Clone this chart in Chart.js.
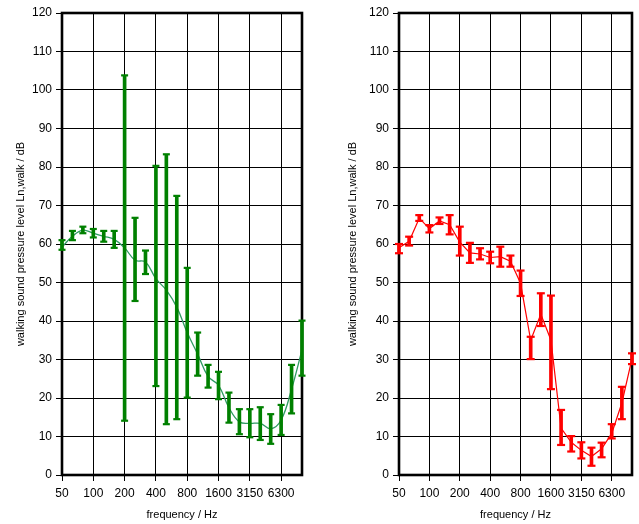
<!DOCTYPE html>
<html>
<head>
<meta charset="utf-8">
<script src="https://cdn.jsdelivr.net/npm/chart.js@4.4.1/dist/chart.umd.min.js"></script>
<style>
  html, body { margin: 0; padding: 0; background: #fff; }
  #wrap { position: relative; width: 639px; height: 524px; }
  canvas { position: absolute; top: 0; }
</style>
</head>
<body>
<div id="wrap">
  <canvas id="leftChart" width="320" height="524" style="left:0"></canvas>
  <canvas id="rightChart" width="319" height="524" style="left:320px"></canvas>
</div>
<script>
// third-octave bands, a label on every third one
const freqLabels = ['50', '63', '80', '100', '125', '160', '200', '250', '315', '400', '500', '630',
                    '800', '1000', '1250', '1600', '2000', '2500', '3150', '4000', '5000', '6300', '8000', '10000'];
const yMin = 0;
const yMax = 120;
const yStep = 10;

// left panel (green): mean and error bar ends
const greenMean = [59.2, 62.0, 63.6, 62.8, 62.0, 61.2, 59.0, 55.8, 55.3, 51.0, 48.0, 43.6,
                   37.0, 31.4, 25.6, 23.3, 17.5, 13.8, 13.4, 13.4, 12.0, 14.3, 22.3, 32.5];
const greenHigh = [61.0, 63.4, 64.5, 63.9, 63.4, 63.4, 103.8, 66.8, 58.3, 80.3, 83.3, 72.5,
                   53.8, 37.0, 28.6, 26.8, 21.4, 17.1, 17.1, 17.6, 15.8, 18.2, 28.6, 40.1];
const greenLow  = [58.5, 61.0, 62.8, 61.7, 60.6, 59.0, 14.1, 45.2, 52.2, 23.1, 13.2, 14.5,
                   20.1, 25.8, 22.7, 19.7, 13.6, 10.6, 9.8, 9.1, 8.1, 10.4, 16.0, 25.8];

// right panel (red)
const redMean = [59.0, 60.7, 66.7, 64.0, 66.0, 65.0, 60.5, 57.7, 57.4, 56.5, 56.7, 55.5,
                 49.8, 35.0, 41.8, 35.0, 12.2, 8.5, 6.4, 4.8, 6.8, 10.8, 18.7, 30.2];
const redHigh = [60.0, 61.9, 67.5, 64.9, 66.9, 67.5, 64.5, 60.3, 58.9, 58.0, 59.3, 57.0,
                 53.1, 35.9, 47.2, 46.6, 16.9, 10.1, 8.5, 7.1, 8.4, 13.2, 22.9, 31.6];
const redLow  = [57.6, 59.6, 66.0, 63.0, 65.2, 62.5, 57.0, 55.1, 56.0, 55.0, 54.1, 54.1,
                 46.5, 30.1, 38.7, 22.3, 7.8, 6.1, 4.3, 2.4, 4.6, 9.5, 14.5, 28.8];

const fontFamily = '"Liberation Sans", Arial, sans-serif';

// thick black box round the plot area
const framePlugin = {
  id: 'frame',
  beforeDatasetsDraw(chart) {
    const { ctx, chartArea: a } = chart;
    ctx.save();
    ctx.strokeStyle = '#000';
    ctx.lineWidth = 2.6;
    ctx.strokeRect(a.left, a.top, a.right - a.left, a.bottom - a.top);
    ctx.restore();
  }
};

function makeChart(canvasId, s) {
  const ctx = document.getElementById(canvasId).getContext('2d');
  return new Chart(ctx, {
    type: 'line',
    data: {
      labels: freqLabels,
      datasets: [
        {
          data: s.mean,
          borderColor: s.lineColor,
          borderWidth: s.lineWidth,
          tension: s.tension,
          pointRadius: 0,
          fill: false,
          clip: false,
          order: 3
        },
        {
          type: 'bar',
          data: s.low.map((l, i) => [l, s.high[i]]),
          backgroundColor: s.color,
          borderWidth: 0,
          barThickness: 3,
          clip: false,
          order: 2
        },
        {
          data: s.high,
          showLine: false,
          pointStyle: 'line',
          pointRadius: s.capRadius,
          pointBorderWidth: 2.2,
          pointBorderColor: s.color,
          clip: false,
          order: 1
        },
        {
          data: s.low,
          showLine: false,
          pointStyle: 'line',
          pointRadius: s.capRadius,
          pointBorderWidth: 2.2,
          pointBorderColor: s.color,
          clip: false,
          order: 1
        }
      ]
    },
    options: {
      responsive: false,
      animation: false,
      layout: { padding: { top: 13, right: s.padRight, bottom: 0, left: 0 } },
      plugins: { legend: { display: false }, tooltip: { enabled: false } },
      scales: {
        x: {
          type: 'category',
          offset: false,
          afterFit: (scale) => { scale.height = 49; },
          grid: {
            offset: false,
            lineWidth: 1,
            tickLength: 6,
            color: (c) => c.index % 3 === 0 ? '#000' : 'rgba(0,0,0,0)'
          },
          border: { display: false },
          ticks: {
            autoSkip: false,
            maxRotation: 0,
            minRotation: 0,
            padding: 5,
            color: '#000',
            font: { family: fontFamily, size: 12 },
            callback: (v, i) => i % 3 === 0 ? freqLabels[i] : ''
          },
          title: {
            display: true,
            text: 'frequency / Hz',
            color: '#000',
            font: { family: fontFamily, size: 11 },
            padding: { top: 0, bottom: 2 }
          }
        },
        y: {
          min: yMin,
          max: yMax,
          afterFit: (scale) => { scale.width = s.yWidth; },
          grid: { color: '#000', lineWidth: 1, tickLength: 6 },
          border: { display: false },
          ticks: {
            stepSize: yStep,
            padding: 4,
            color: '#000',
            font: { family: fontFamily, size: 12 }
          },
          title: {
            display: true,
            text: 'walking sound pressure level Ln,walk / dB',
            color: '#000',
            font: { family: fontFamily, size: 11 },
            padding: { top: s.titlePad, bottom: 0 }
          }
        }
      }
    },
    plugins: [framePlugin]
  });
}

makeChart('leftChart', {
  mean: greenMean, low: greenLow, high: greenHigh,
  color: '#008000', lineColor: '#2f9a62', lineWidth: 1.3, tension: 0.4,
  capRadius: 3.5, yWidth: 62, padRight: 18, titlePad: 14
});

makeChart('rightChart', {
  mean: redMean, low: redLow, high: redHigh,
  color: '#ff0000', lineColor: '#ff0000', lineWidth: 1.2, tension: 0,
  capRadius: 4, yWidth: 79, padRight: 7, titlePad: 26
});
</script>
</body>
</html>
